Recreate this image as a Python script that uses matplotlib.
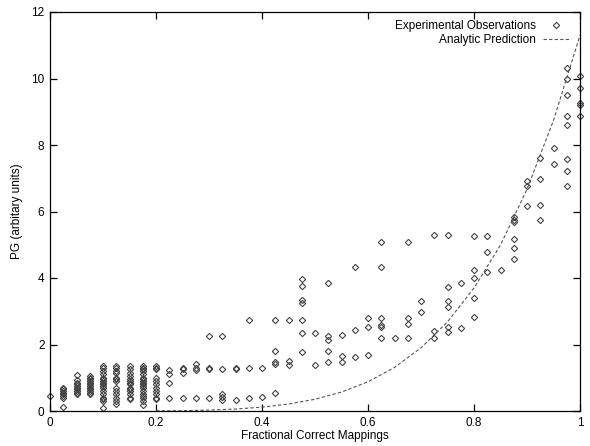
import matplotlib
matplotlib.use("Agg")
import matplotlib.pyplot as plt

# ---- data ----
obs_columns = {
    0.000: [0.45],
    0.025: [0.13, 0.40, 0.45, 0.50, 0.55, 0.60, 0.65, 0.70],
    0.050: [1.08, 0.93, 0.85, 0.80, 0.75, 0.70, 0.65, 0.60, 0.55, 0.50],
    0.075: [1.05, 1.00, 0.95, 0.90, 0.85, 0.80, 0.75, 0.70, 0.65, 0.60, 0.55, 0.50],
    0.100: [1.35, 1.30, 1.20, 1.10, 1.00, 0.95, 0.90, 0.85, 0.80, 0.75, 0.70, 0.60, 0.50, 0.40, 0.35, 0.30, 0.10],
    0.125: [1.35, 1.30, 1.20, 1.15, 1.00, 0.95, 0.90, 0.70, 0.60, 0.50, 0.40, 0.30, 0.20],
    0.150: [1.35, 1.25, 1.15, 1.05, 0.95, 0.90, 0.85, 0.80, 0.70, 0.65, 0.60, 0.50, 0.40, 0.35],
    0.175: [1.35, 1.30, 1.25, 1.20, 1.10, 1.00, 0.95, 0.90, 0.85, 0.80, 0.75, 0.70, 0.60, 0.50, 0.45, 0.40, 0.30, 0.18],
    0.200: [1.35, 1.30, 1.25, 1.00, 0.90, 0.80, 0.70, 0.60, 0.50, 0.40, 0.35],
    0.225: [1.22, 1.12, 0.85, 0.40],
    0.250: [1.30, 1.25, 1.15, 0.40],
    0.275: [1.42, 1.30, 1.22, 0.40],
    0.300: [2.27, 1.28, 1.25, 0.40],
    0.325: [2.27, 1.25, 0.50, 0.42, 0.33],
    0.350: [1.30, 1.26, 0.32],
    0.375: [2.74, 1.30, 0.40],
    0.400: [1.30, 0.42],
    0.425: [2.74, 1.81, 1.48, 1.41, 0.55],
    0.450: [2.74, 1.50, 1.38],
    0.475: [3.96, 3.76, 3.34, 3.26, 2.74, 2.34, 1.78],
    0.500: [2.34, 1.38],
    0.525: [3.86, 2.26, 2.14, 1.81, 1.48],
    0.550: [2.30, 1.65, 1.48],
    0.575: [4.34, 2.44, 1.61],
    0.600: [2.79, 2.54, 1.68],
    0.625: [5.07, 4.32, 2.79, 2.60, 2.52, 2.20],
    0.650: [2.20],
    0.675: [5.07, 2.79, 2.61, 2.20],
    0.700: [3.32, 2.99],
    0.725: [5.29, 2.41, 2.19],
    0.750: [5.29, 3.74, 3.31, 3.12, 2.54, 2.37],
    0.775: [3.84, 2.51],
    0.800: [5.27, 4.24, 3.99, 3.39, 2.84],
    0.825: [5.27, 4.77, 4.19],
    0.850: [4.24],
    0.875: [5.82, 5.75, 5.68, 5.17, 4.91, 4.56],
    0.900: [6.92, 6.77, 6.17],
    0.925: [7.60, 6.98, 6.20, 5.74],
    0.950: [7.92, 7.42],
    0.975: [10.33, 9.97, 9.50, 8.88, 8.60, 7.57, 7.23, 6.78],
    1.000: [10.08, 9.70, 9.25, 9.20, 8.87],
}

pred_x = [0.20, 0.25, 0.30, 0.35, 0.40, 0.45, 0.50, 0.55, 0.60, 0.65, 0.70,
          0.75, 0.80, 0.85, 0.90, 0.95, 1.00]
pred_y = [0.004, 0.011, 0.027, 0.059, 0.116, 0.209, 0.353, 0.570, 0.879,
          1.31, 1.90, 2.68, 3.70, 4.99, 6.67, 8.74, 11.30]

x_ticks = [0, 0.2, 0.4, 0.6, 0.8, 1]
x_tick_labels = ["0", "0.2", "0.4", "0.6", "0.8", "1"]
y_ticks = [0, 2, 4, 6, 8, 10, 12]

obs_x = []
obs_y = []
for xv, ys in obs_columns.items():
    for yv in ys:
        obs_x.append(xv)
        obs_y.append(yv)

plt.rcParams['font.family'] = ['Liberation Sans', 'DejaVu Sans']

fig = plt.figure(figsize=(5.9, 4.46), dpi=100)
ax = fig.add_axes([50/590, 35/446, 530/590, 399/446])

ax.plot(obs_x, obs_y, linestyle='none', marker='D', markersize=3.2,
        markerfacecolor='none', markeredgecolor='#444444', markeredgewidth=0.8,
        label='Experimental Observations', clip_on=False)
ax.plot(pred_x, pred_y, linestyle=(0, (3.0, 2.0)), color='#555555', linewidth=0.8,
        label='Analytic Prediction')

ax.set_xlim(0, 1)
ax.set_ylim(0, 12)
ax.set_xticks(x_ticks)
ax.set_xticklabels(x_tick_labels)
ax.set_yticks(y_ticks)
ax.tick_params(direction='in', length=5, width=0.9, top=True, right=True,
               labelsize=8.5, pad=4)
for s in ax.spines.values():
    s.set_linewidth(0.9)

ax.set_xlabel('Fractional Correct Mappings', fontsize=8.5, labelpad=1)
ax.set_ylabel('PG (arbitary units)', fontsize=8.5, labelpad=6)

leg = ax.legend(loc='upper right', frameon=False, markerfirst=False,
                fontsize=8.5, handlelength=2.2, borderaxespad=0.3,
                labelspacing=0.15, handletextpad=0.6, alignment='right',
                bbox_to_anchor=(0.995, 1.0))
for t in leg.get_texts():
    t.set_ha('right')

fig.savefig('out.png', dpi=100)
